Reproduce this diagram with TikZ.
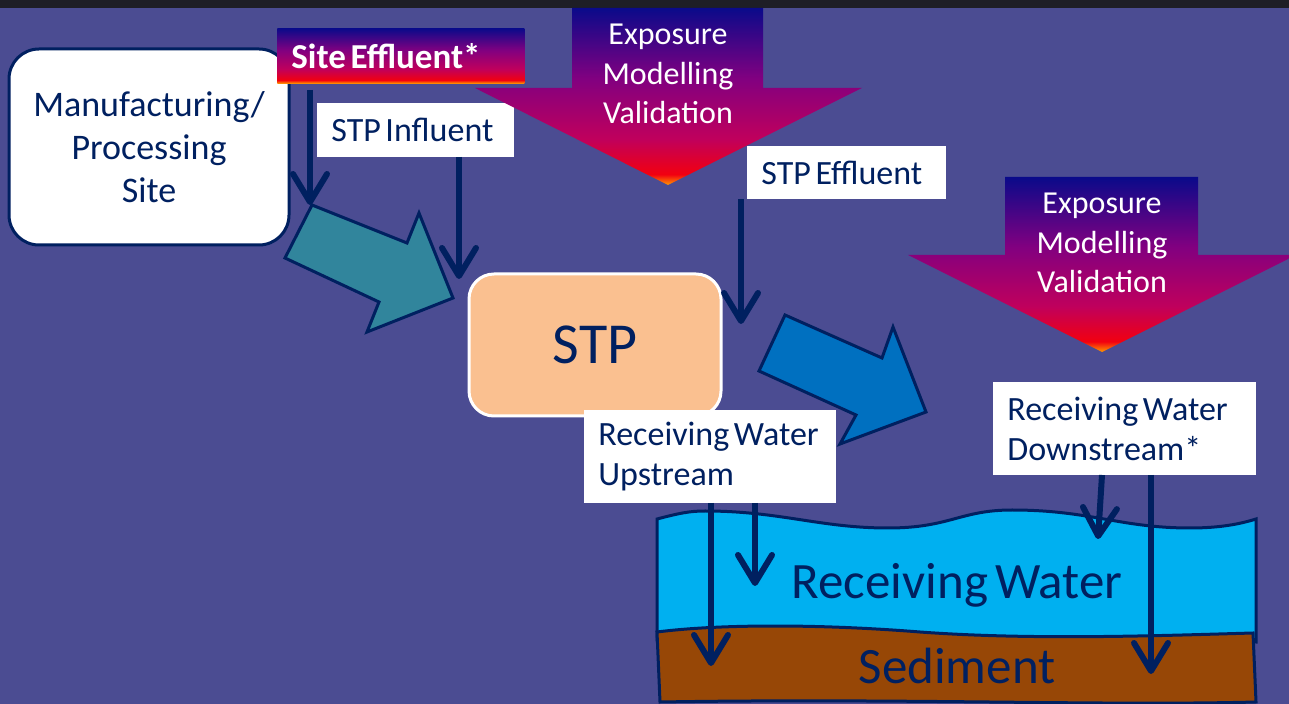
\documentclass[tikz,border=0pt]{standalone}
\usepackage{fontspec}
\setmainfont{Carlito}[WordSpace=0.6]
\usetikzlibrary{arrows.meta}

\definecolor{bg}{RGB}{75,76,146}
\definecolor{band}{RGB}{30,30,38}
\definecolor{navy}{HTML}{002060}
\definecolor{teal}{HTML}{31859C}
\definecolor{flowblue}{HTML}{0070C0}
\definecolor{stpfill}{HTML}{FAC090}
\definecolor{waterfill}{HTML}{00B0F0}
\definecolor{sedfill}{HTML}{974706}
\definecolor{enavy}{HTML}{0A0A8A}
\definecolor{epurple}{HTML}{820080}
\definecolor{emag}{HTML}{C0005C}
\definecolor{ered}{HTML}{F20010}
\definecolor{eorange}{HTML}{FF9A00}

% top-to-bottom fade: navy, purple, magenta, red, orange edge
\pgfdeclareverticalshading{expo}{100bp}{color(0bp)=(eorange); color(25bp)=(eorange); color(28bp)=(ered); color(38bp)=(emag); color(55bp)=(epurple); color(75bp)=(enavy); color(100bp)=(enavy)}

\begin{document}
\begin{tikzpicture}[x=0.5pt,y=-0.5pt,
  natspace/.style={execute at begin node={\spaceskip=0pt\xspaceskip=0pt\relax}},
  lbl/.style={fill=white, text=navy, anchor=north west, align=left, natspace,
    inner xsep=7pt, inner ysep=0pt, font=\fontsize{17}{20}\selectfont},
  expotext/.style={text=white, align=center, font=\fontsize{16}{19.75}\selectfont},
  flow/.style={draw=navy, line width=3pt,
    -{Straight Barb[length=14pt,width=17pt,line cap=round,line join=round]}},
  blockarrow/.style={draw=navy, line width=1.5pt, line join=miter},
  expoarrow/.style={shading=expo},
  layer/.style={draw=navy, line width=1.5pt}]

\useasboundingbox (0,0) rectangle (1289,704);
\fill[bg] (0,0) rectangle (1289,704);
\fill[band] (0,0) rectangle (1289,8);

% site and its effluent
\node[draw=navy, line width=1.5pt, fill=white, rounded corners=15pt,
  minimum width=140pt, minimum height=98pt, align=center, text=navy,
  font=\fontsize{18}{21.5}\selectfont] (mfg) at (149,147)
  {Manufacturing/\\Processing\\Site};

\node[shading=expo, anchor=north west, text width=109.5pt, inner xsep=7pt,
  inner ysep=0pt, minimum height=27.5pt, text=white, align=left, natspace,
  font=\fontsize{17.5}{20}\selectfont\bfseries] (siteeff) at (277,28)
  {\mbox{Site Effluent*}};

% flow from site into the treatment plant
\filldraw[blockarrow, fill=teal] (312,205) -- (407,243) -- (419,213) -- (453,298)
  -- (367,332) -- (379,302) -- (285,258) -- cycle;

% treatment plant
\node[draw=white, line width=1.5pt, fill=stpfill, rounded corners=12.5pt,
  minimum width=126pt, minimum height=71pt, text=navy,
  font=\fontsize{29}{34}\selectfont] (stp) at (595,345) {STP};

% sampling labels
\node[lbl, text width=84.5pt, minimum height=27pt] (infl) at (317,103)
  {\mbox{STP Influent}};
\node[lbl, text width=85.5pt, minimum height=26.5pt] (effl) at (747,146)
  {\mbox{STP Effluent}};
\node[lbl, text width=112pt, minimum height=46.5pt] (upst) at (584,410)
  {\mbox{Receiving Water}\\\mbox{Upstream}};
\node[lbl, text width=117.5pt, minimum height=46.5pt] (downst) at (993,382)
  {\mbox{Receiving Water}\\\mbox{Downstream*}};

% flow from the plant into the river
\filldraw[blockarrow, fill=flowblue] (785,315) -- (882,358) -- (893,327) -- (926,412)
  -- (840,444) -- (856,415) -- (759,371) -- cycle;

% exposure modelling validation arrows
\path[expoarrow] (572,8) -- (763,8) -- (763,88) -- (862,88) -- (668,185)
  -- (475,88) -- (572,88) -- cycle;
\node[expotext] (expoA) at (668,74) {Exposure\\Modelling\\Validation};

\path[expoarrow] (1005,177) -- (1198,177) -- (1198,255) -- (1296,255) -- (1102,352)
  -- (908,255) -- (1005,255) -- cycle;
\node[expotext] (expoB) at (1102,243) {Exposure\\Modelling\\Validation};

% receiving water over sediment
\filldraw[layer, fill=waterfill] (657,519) .. controls (680,513) and (690,511) .. (705,511)
  .. controls (780,511) and (820,528) .. (888,528)
  .. controls (950,528) and (960,510) .. (1012,510)
  .. controls (1090,510) and (1120,528) .. (1190,528)
  .. controls (1220,528) and (1240,524) .. (1256,519) -- (1256,642) -- (657,640) -- cycle;
\filldraw[layer, fill=sedfill] (657,632) .. controls (720,624) and (820,624) .. (920,632)
  .. controls (1030,640) and (1150,636) .. (1253,633) -- (1256,702)
  .. controls (1100,706) and (900,698) .. (660,702) -- cycle;
\node[text=navy, anchor=base, font=\fontsize{25.5}{30}\selectfont] (rw) at (957,598)
  {Receiving Water};
\node[text=navy, anchor=base, font=\fontsize{25.5}{30}\selectfont] (sed) at (957,683)
  {Sediment};

% sampling points
\coordinate (siteeffA) at (310,90);
\coordinate (tealtail) at (310,205);
\coordinate (inflA) at (459,157);
\coordinate (stpin) at (459,279);
\coordinate (efflA) at (741,199);
\coordinate (stpout) at (741,324);
\coordinate (upA) at (711,503);
\coordinate (upsed) at (711,666);
\coordinate (upB) at (755,503);
\coordinate (upwat) at (755,586);
\coordinate (dnA) at (1102,475);
\coordinate (dnwat) at (1098,539);
\coordinate (dnB) at (1151,475);
\coordinate (dnsed) at (1151,674);

\draw[flow] (siteeffA) -- (tealtail);
\draw[flow] (inflA) -- (stpin);
\draw[flow] (efflA) -- (stpout);
\draw[flow] (upA) -- (upsed);
\draw[flow] (upB) -- (upwat);
\draw[flow] (dnA) -- (dnwat);
\draw[flow] (dnB) -- (dnsed);
\end{tikzpicture}
\end{document}
